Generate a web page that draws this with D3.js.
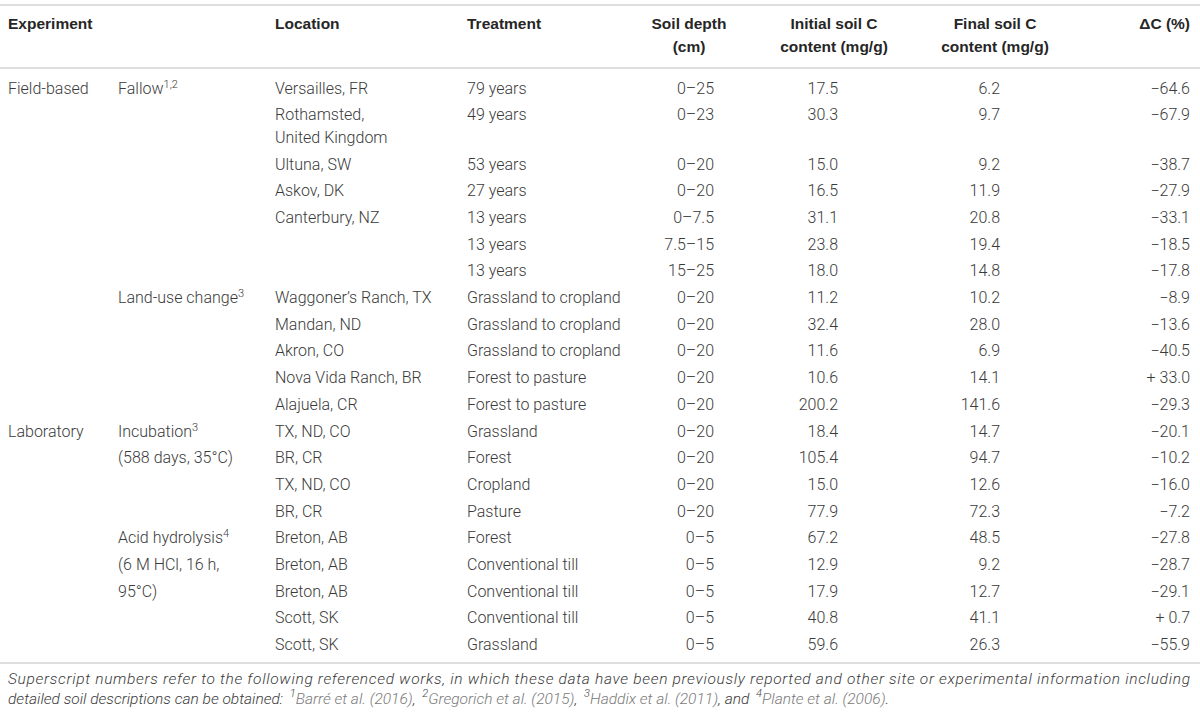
<!DOCTYPE html>
<html>
<head>
<meta charset="utf-8">
<script src="https://cdn.jsdelivr.net/npm/d3@7"></script>
<style>
  body { margin: 0; background: #fff; }
  svg text { font-family: Roboto, "Liberation Sans", sans-serif; }
  svg text.head { font-family: "Liberation Sans", Arial, sans-serif; }
</style>
</head>
<body>
<div id="table"></div>
<script>
// table contents
const headers = [
  ["Experiment"], ["Location"], ["Treatment"],
  ["Soil depth", "(cm)"], ["Initial soil C", "content (mg/g)"],
  ["Final soil C", "content (mg/g)"], ["\u0394C (%)"]
];
const experiments = ["Field-based", "", "", "", "", "", "", "", "", "", "", "", "Laboratory", "", "", "", "", "", "", "", ""];
// subgroup label lines: [text, superscript]
const subgroups = [
  ["Fallow", "1,2"], ["", ""], ["", ""], ["", ""], ["", ""], ["", ""], ["", ""],
  ["Land-use change", "3"], ["", ""], ["", ""], ["", ""], ["", ""],
  ["Incubation", "3"], ["(588 days, 35\u00b0C)", ""], ["", ""], ["", ""],
  ["Acid hydrolysis", "4"], ["(6 M HCl, 16 h,", ""], ["95\u00b0C)", ""], ["", ""], ["", ""]
];
const locations = [
  ["Versailles, FR"], ["Rothamsted,", "United Kingdom"], ["Ultuna, SW"], ["Askov, DK"],
  ["Canterbury, NZ"], [""], [""], ["Waggoner\u2019s Ranch, TX"], ["Mandan, ND"], ["Akron, CO"],
  ["Nova Vida Ranch, BR"], ["Alajuela, CR"], ["TX, ND, CO"], ["BR, CR"], ["TX, ND, CO"],
  ["BR, CR"], ["Breton, AB"], ["Breton, AB"], ["Breton, AB"], ["Scott, SK"], ["Scott, SK"]
];
const treatments = [
  "79 years", "49 years", "53 years", "27 years", "13 years", "13 years", "13 years",
  "Grassland to cropland", "Grassland to cropland", "Grassland to cropland",
  "Forest to pasture", "Forest to pasture", "Grassland", "Forest", "Cropland", "Pasture",
  "Forest", "Conventional till", "Conventional till", "Conventional till", "Grassland"
];
const depths = ["0\u201325", "0\u201323", "0\u201320", "0\u201320", "0\u20137.5", "7.5\u201315", "15\u201325",
  "0\u201320", "0\u201320", "0\u201320", "0\u201320", "0\u201320", "0\u201320", "0\u201320", "0\u201320", "0\u201320",
  "0\u20135", "0\u20135", "0\u20135", "0\u20135", "0\u20135"];
const initialC = [17.5, 30.3, 15.0, 16.5, 31.1, 23.8, 18.0, 11.2, 32.4, 11.6, 10.6, 200.2,
  18.4, 105.4, 15.0, 77.9, 67.2, 12.9, 17.9, 40.8, 59.6];
const finalC = [6.2, 9.7, 9.2, 11.9, 20.8, 19.4, 14.8, 10.2, 28.0, 6.9, 14.1, 141.6,
  14.7, 94.7, 12.6, 72.3, 48.5, 9.2, 12.7, 41.1, 26.3];
const deltaC = [-64.6, -67.9, -38.7, -27.9, -33.1, -18.5, -17.8, -8.9, -13.6, -40.5, 33.0, -29.3,
  -20.1, -10.2, -16.0, -7.2, -27.8, -28.7, -29.1, 0.7, -55.9];
// footnote pieces: t = text, s = superscript, r = reference
const footnote = [
  [["Superscript numbers refer to the following referenced works, in which these data have been previously reported and other site or experimental information including", "t"]],
  [["detailed soil descriptions can be obtained: ", "t"], ["1", "s"], ["Barr\u00e9 et al. (2016)", "r"], [", ", "t"],
   ["2", "s"], ["Gregorich et al. (2015)", "r"], [", ", "t"], ["3", "s"], ["Haddix et al. (2011)", "r"],
   [", and ", "t"], ["4", "s"], ["Plante et al. (2006)", "r"], [".", "t"]]
];

const width = 1200, height = 716;
const svg = d3.select("#table").append("svg")
  .attr("width", width).attr("height", height);

// column anchors
const cols = {
  exp: { x: 8, anchor: "start" },
  sub: { x: 118, anchor: "start" },
  loc: { x: 275, anchor: "start" },
  trt: { x: 467, anchor: "start" },
  dep: { x: 714, anchor: "end" },
  ini: { x: 838, anchor: "end" },
  fin: { x: 1000, anchor: "end" },
  dc: { x: 1190, anchor: "end" }
};
const headCols = [
  { x: 8, anchor: "start" }, { x: 275, anchor: "start" }, { x: 467, anchor: "start" },
  { x: 689, anchor: "middle" }, { x: 834, anchor: "middle" }, { x: 995, anchor: "middle" },
  { x: 1190, anchor: "end" }
];

const rowPitch = 26.7, innerLine = 22.5;
// rows with a wrapped location get an extra inner line
const rowIdx = d3.range(treatments.length);
const extra = rowIdx.map(i => locations[i].length - 1);
const cumExtra = d3.cumsum(extra);
const y = d3.scaleLinear().domain([0, 1]).range([88, 88 + rowPitch]);
const rowY = i => y(i) + (i > 0 ? cumExtra[i - 1] : 0) * innerLine;

const textColor = "#3a3a3a";
const fmt = d3.format(".1f");
const fmtDelta = v => v < 0 ? "\u2212" + fmt(-v) : "+ " + fmt(v);

// rules
const rule = (yy) => svg.append("line")
  .attr("x1", 0).attr("x2", width).attr("y1", yy).attr("y2", yy)
  .attr("stroke", "#dedede").attr("stroke-width", 2);
rule(5); rule(68); rule(663);

// header
headers.forEach((lines, j) => {
  lines.forEach((t, k) => {
    svg.append("text")
      .attr("class", "head")
      .attr("x", headCols[j].x).attr("y", 24 + k * 22.5)
      .attr("dy", "0.35em")
      .attr("text-anchor", headCols[j].anchor)
      .attr("font-size", 15.5).attr("font-weight", 700)
      .attr("fill", "#262626")
      .text(t);
  });
});

const body = svg.append("g").attr("font-size", 16).attr("font-weight", 300).attr("fill", textColor);

function cell(col, i, txt, sup) {
  const t = body.append("text")
    .attr("x", cols[col].x).attr("y", rowY(i))
    .attr("dy", "0.35em")
    .attr("text-anchor", cols[col].anchor)
    .text(txt);
  if (sup) {
    t.append("tspan").attr("dy", -6).attr("font-size", 11).text(sup);
  }
  return t;
}

rowIdx.forEach(i => {
  if (experiments[i]) cell("exp", i, experiments[i]);
  if (subgroups[i][0]) cell("sub", i, subgroups[i][0], subgroups[i][1]);
  locations[i].forEach((t, k) => {
    if (!t) return;
    body.append("text")
      .attr("x", cols.loc.x).attr("y", rowY(i) + k * innerLine)
      .attr("dy", "0.35em").text(t);
  });
  cell("trt", i, treatments[i]);
  cell("dep", i, depths[i]);
  cell("ini", i, fmt(initialC[i]));
  cell("fin", i, fmt(finalC[i]));
  cell("dc", i, fmtDelta(deltaC[i]));
});

// footnote (baselines)
const foot = svg.append("g").attr("font-size", 15.5).attr("font-style", "italic").attr("font-weight", 300);
footnote.forEach((parts, k) => {
  const t = foot.append("text").attr("x", 8).attr("y", 684 + k * 20);
  let prevSup = false;
  parts.forEach(([s, kind]) => {
    const sp = t.append("tspan").text(s);
    if (kind === "s") {
      sp.attr("font-size", 11).attr("dy", -7).attr("fill", "#444").attr("dx", 3);
    } else {
      sp.attr("fill", kind === "r" ? "#7a7a7a" : textColor);
      if (prevSup) sp.attr("dy", 7);
    }
    prevSup = kind === "s";
  });
  if (k === 0) t.attr("textLength", 1182).attr("lengthAdjust", "spacing");
});
</script>
</body>
</html>
